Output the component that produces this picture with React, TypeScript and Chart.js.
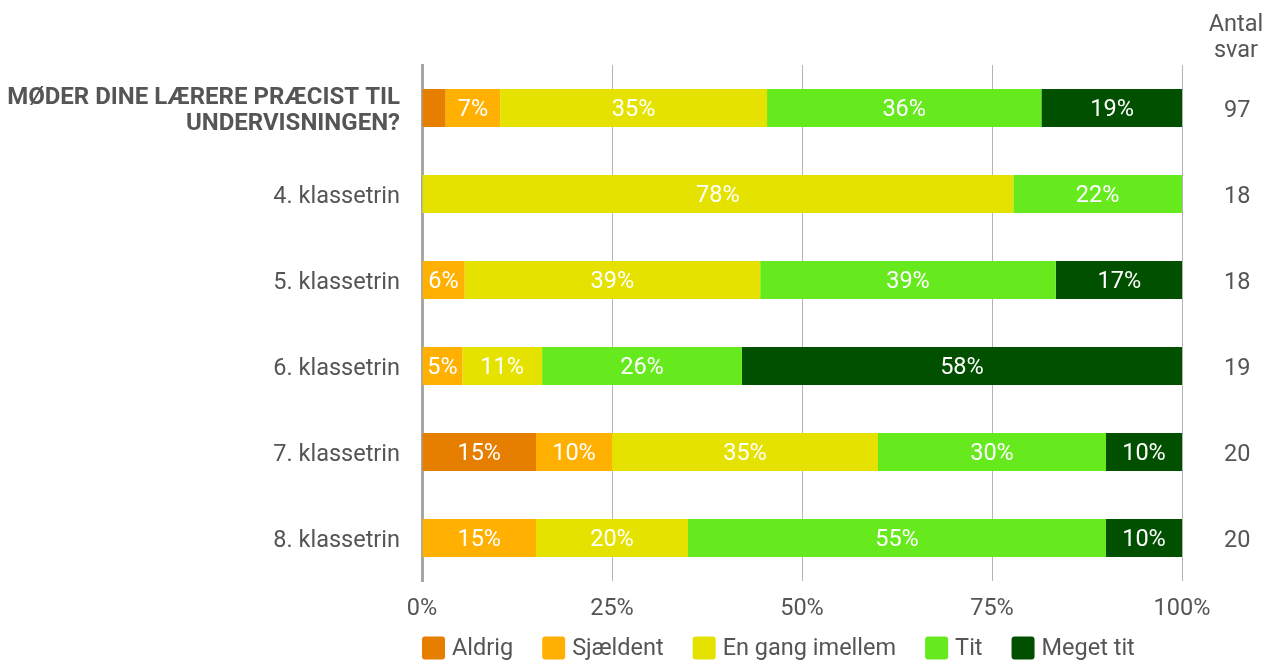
import React, { useEffect, useRef } from "react";
import { Chart, registerables } from "chart.js";

Chart.register(...registerables);

const categories: (string | string[])[] = [
  ["MØDER DINE LÆRERE PRÆCIST TIL", "UNDERVISNINGEN?"],
  "4. klassetrin",
  "5. klassetrin",
  "6. klassetrin",
  "7. klassetrin",
  "8. klassetrin",
];
const seriesNames = ["Aldrig", "Sjældent", "En gang imellem", "Tit", "Meget tit"];
const seriesColors = ["#E67E00", "#FFB000", "#E6E200", "#66EA1E", "#005000"];
const aldrig = [3.1, 0, 0, 0, 15, 0];
const sjaeldent = [7.2, 0, 5.6, 5.3, 10, 15];
const enGang = [35.1, 77.8, 38.9, 10.5, 35, 20];
const tit = [36.1, 22.2, 38.9, 26.3, 30, 55];
const megetTit = [18.6, 0, 16.7, 57.9, 10, 10];
const antalSvar = ["97", "18", "18", "19", "20", "20"];
const antalTitle = ["Antal", "svar"];
const xTickStep = 25;

const FONT = "Roboto, 'Noto Sans', sans-serif";
const GRAY = "#555555";
const FS = 23.5;

const valueLabels = {
  id: "valueLabels",
  afterDatasetsDraw(chart: any) {
    const ctx = chart.ctx;
    ctx.save();
    ctx.font = `${FS}px ${FONT}`;
    ctx.fillStyle = "#ffffff";
    ctx.textAlign = "center";
    ctx.textBaseline = "middle";
    chart.data.datasets.forEach((ds: any, i: number) => {
      const meta = chart.getDatasetMeta(i);
      meta.data.forEach((el: any, j: number) => {
        const v = ds.data[j];
        if (v < 4.5) return;
        const p = el.getCenterPoint();
        ctx.fillText(Math.round(v) + "%", p.x, p.y + 2);
      });
    });
    ctx.restore();
  },
};

const headerAndLegend = {
  id: "headerAndLegend",
  afterDraw(chart: any) {
    const ctx = chart.ctx;
    const area = chart.chartArea;
    ctx.save();
    ctx.font = `${FS}px ${FONT}`;
    ctx.fillStyle = GRAY;
    ctx.textAlign = "center";
    ctx.textBaseline = "middle";
    ctx.fillText(antalTitle[0], 1236, 25);
    ctx.fillText(antalTitle[1], 1236, 51);

    // legend
    let x = area.left;
    const y = 648;
    ctx.textAlign = "left";
    chart.data.datasets.forEach((ds: any) => {
      ctx.fillStyle = ds.backgroundColor;
      ctx.beginPath();
      ctx.roundRect(x, y - 11.5, 23, 23, 3);
      ctx.fill();
      ctx.fillStyle = GRAY;
      ctx.fillText(ds.label, x + 30, y + 1);
      const w = ctx.measureText(ds.label).width;
      x += 30 + w + 29;
    });
    ctx.restore();
  },
};

export default function App() {
  const ref = useRef<HTMLCanvasElement | null>(null);

  useEffect(() => {
    if (!ref.current) return;
    const seriesData = [aldrig, sjaeldent, enGang, tit, megetTit];
    const chart = new Chart(ref.current, {
      type: "bar",
      data: {
        labels: categories as any,
        datasets: seriesNames.map((name, i) => ({
          label: name,
          data: seriesData[i],
          backgroundColor: seriesColors[i],
          borderWidth: 0,
          categoryPercentage: 1,
          barPercentage: 0.442,
          yAxisID: "y",
        })),
      },
      options: {
        indexAxis: "y",
        animation: false,
        responsive: false,
        maintainAspectRatio: false,
        layout: { padding: { top: 65, bottom: 0, left: 0, right: 0 } },
        plugins: {
          legend: { display: false },
          tooltip: { enabled: false },
        },
        scales: {
          x: {
            stacked: true,
            min: 0,
            max: 100,
            afterFit(scale: any) {
              scale.height = 81;
            },
            ticks: {
              stepSize: xTickStep,
              callback: (v: any) => v + "%",
              font: { family: FONT, size: FS },
              color: GRAY,
              padding: 14,
              maxRotation: 0,
            },
            grid: { color: "#b3b3b3", lineWidth: 1, drawTicks: false },
            border: { display: false },
          },
          y: {
            stacked: true,
            offset: true,
            position: "left",
            afterFit(scale: any) {
              scale.width = 422;
            },
            ticks: {
              font: (c: any) => ({
                family: FONT,
                size: c.index === 0 ? 24 : FS,
                weight: c.index === 0 ? "bold" : "normal",
                lineHeight: 1.1,
              }),
              color: GRAY,
              padding: 22,
              labelOffset: 3,
            },
            grid: { display: false, drawTicks: false },
            border: { display: true, color: "#a6a6a6", width: 3 },
          },
          y2: {
            type: "category",
            labels: antalSvar,
            offset: true,
            position: "right",
            afterFit(scale: any) {
              scale.width = 84;
            },
            ticks: {
              font: { family: FONT, size: FS },
              color: GRAY,
              padding: 42,
              labelOffset: 3,
            },
            grid: { display: false, drawTicks: false },
            border: { display: false },
          },
        },
      } as any,
      plugins: [valueLabels, headerAndLegend],
    });
    return () => chart.destroy();
  }, []);

  return (
    <div style={{ position: "absolute", left: 0, top: 0, width: 1266, height: 662, background: "#fff" }}>
      <canvas ref={ref} width={1266} height={662} style={{ display: "block" }} />
    </div>
  );
}
